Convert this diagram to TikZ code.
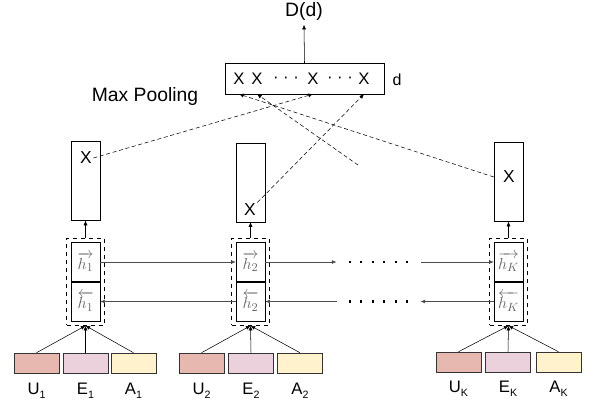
\documentclass[tikz,border=0pt]{standalone}
\usepackage{amsmath}
\usepackage{fontspec}
\setmainfont{Liberation Sans}
\usetikzlibrary{arrows.meta,fit}
\definecolor{ucol}{HTML}{E6B8AF}
\definecolor{ecol}{HTML}{EAD1DC}
\definecolor{acol}{HTML}{FFF2CC}
\newcommand{\dotrow}{\rule{1.6pt}{1.6pt}\hspace{7pt}\rule{1.6pt}{1.6pt}\hspace{7pt}\rule{1.6pt}{1.6pt}\hspace{7pt}\rule{1.6pt}{1.6pt}\hspace{7pt}\rule{1.6pt}{1.6pt}\hspace{7pt}\rule{1.6pt}{1.6pt}}
\newcommand{\lowsub}[1]{\raisebox{-3pt}{\fontsize{8}{9}\selectfont #1}}

\begin{document}
\begin{tikzpicture}[x=0.75pt,y=-0.75pt,
  arr/.style={-{Latex[length=3.5pt,width=3pt]}},
  harr/.style={arr, draw=black!70},
  pline/.style={arr, dash pattern=on 3pt off 2pt},
  outbox/.style={draw, minimum width=21.75pt, minimum height=59pt, inner sep=0pt},
  hbox/.style={draw, minimum width=21.75pt, minimum height=29.5pt, inner sep=0pt, text=black!60, font=\fontsize{13}{15}\selectfont},
  group/.style={draw, dashed, inner sep=3pt},
  inbox/.style={draw=black!80, minimum width=33.75pt, minimum height=15pt, inner sep=0pt},
  xlab/.style={inner sep=1pt, font=\fontsize{13}{15}\selectfont},
  plab/.style={inner sep=1pt, font=\fontsize{12.5}{14}\selectfont},
  inlab/.style={inner sep=1pt, font=\fontsize{12.5}{14}\selectfont},
  dotrow/.style={inner xsep=9pt, inner ysep=2pt}]
\useasboundingbox (0,0) rectangle (589,410);

\node[draw, minimum width=119pt, minimum height=23pt] (pool) at (304.5,78.5) {};
\node[plab] (p1) at (239,79) {X};
\node[plab] (p2) at (257,79) {X};
\node[plab] at (286,80) {· · ·};
\node[plab] (p3) at (313,79) {X};
\node[plab] at (340,80) {· · ·};
\node[plab] (p4) at (364,79) {X};
\node[font=\fontsize{12}{14}\selectfont] (dim) at (397,80) {d};
\node[font=\fontsize{14.5}{17}\selectfont] (out) at (304,11) {D(d)};
\node[font=\fontsize{14.5}{17}\selectfont] (poolname) at (145,97) {Max Pooling};
\draw[arr] (pool.north) -- (out.south);

\node[outbox] (outa) at (85.5,181) {};
\node[outbox] (outb) at (250.5,182.5) {};
\node[outbox] (outc) at (508.5,182) {};
\node[xlab] (xa) at (86,158) {X};
\node[xlab] (xb) at (250,210) {X};
\node[xlab] (xc) at (509,177) {X};

\draw[pline] (xa.east) -- (p3 |- pool.south);
\draw[pline] (xb.north east) -- (p4 |- pool.south);
\draw[pline] (outc.west |- xc) -- (p1 |- pool.south);
\coordinate (loose) at (358,165);
\draw[pline] (loose) -- (p2 |- pool.south);

\node[hbox] (hfa) at (85.5,262) {$\overrightarrow{h_1}$};
\node[hbox] (hba) at (85.5,301.5) {$\overleftarrow{h_1}$};
\node[hbox] (hfb) at (250.5,262) {$\overrightarrow{h_2}$};
\node[hbox] (hbb) at (250.5,301.5) {$\overleftarrow{h_2}$};
\node[hbox] (hfc) at (508.5,262) {$\overrightarrow{h_K}$};
\node[hbox] (hbc) at (508.5,301.5) {$\overleftarrow{h_K}$};
\node[group, fit=(hfa)(hba)] (ga) {};
\node[group, fit=(hfb)(hbb)] (gb) {};
\node[group, fit=(hfc)(hbc)] (gc) {};
\draw[arr] (ga.north) -- (outa.south);
\draw[arr] (gb.north) -- (outb.south);
\draw[arr] (gc.north) -- (outc.south);

\node[dotrow] (fdots) at (378.5,262) {\dotrow};
\node[dotrow] (bdots) at (378.5,301.5) {\dotrow};
\draw[harr] (hfa.east) -- (hfb.west);
\draw[harr] (hbb.west) -- (hba.east);
\draw[harr] (hfb.east) -- (fdots.west);
\draw[harr] (fdots.east) -- (hfc.west);
\draw[harr] (hbc.west) -- (bdots.east);
\draw[harr] (bdots.west) -- (hbb.east);

\node[inbox, fill=ucol] (ua) at (36.5,363) {};
\node[inbox, fill=ecol] (ea) at (85.5,363) {};
\node[inbox, fill=acol] (aa) at (133.5,363) {};
\node[inbox, fill=ucol] (ub) at (201.5,363) {};
\node[inbox, fill=ecol] (eb) at (251,363) {};
\node[inbox, fill=acol] (ab) at (300,363) {};
\node[inbox, fill=ucol] (uc) at (458.5,362) {};
\node[inbox, fill=ecol] (ec) at (508,362) {};
\node[inbox, fill=acol] (ac) at (558.5,362) {};
\draw[arr] (ua.north) -- (ga.south);
\draw[arr] (ea.north) -- (ga.south);
\draw[arr] (aa.north) -- (ga.south);
\draw[arr] (ub.north) -- (gb.south);
\draw[arr] (eb.north) -- (gb.south);
\draw[arr] (ab.north) -- (gb.south);
\draw[arr] (uc.north) -- (gc.south);
\draw[arr] (ec.north) -- (gc.south);
\draw[arr] (ac.north) -- (gc.south);

\node[inlab] (lua) at (36.5,391) {U\lowsub{1}};
\node[inlab] (lea) at (85.5,391) {E\lowsub{1}};
\node[inlab] (laa) at (133.5,391) {A\lowsub{1}};
\node[inlab] (lub) at (201.5,391) {U\lowsub{2}};
\node[inlab] (leb) at (251,391) {E\lowsub{2}};
\node[inlab] (lab) at (300,391) {A\lowsub{2}};
\node[inlab] (luc) at (458.5,389) {U\lowsub{K}};
\node[inlab] (lec) at (508,389) {E\lowsub{K}};
\node[inlab] (lac) at (558.5,389) {A\lowsub{K}};
\end{tikzpicture}
\end{document}
